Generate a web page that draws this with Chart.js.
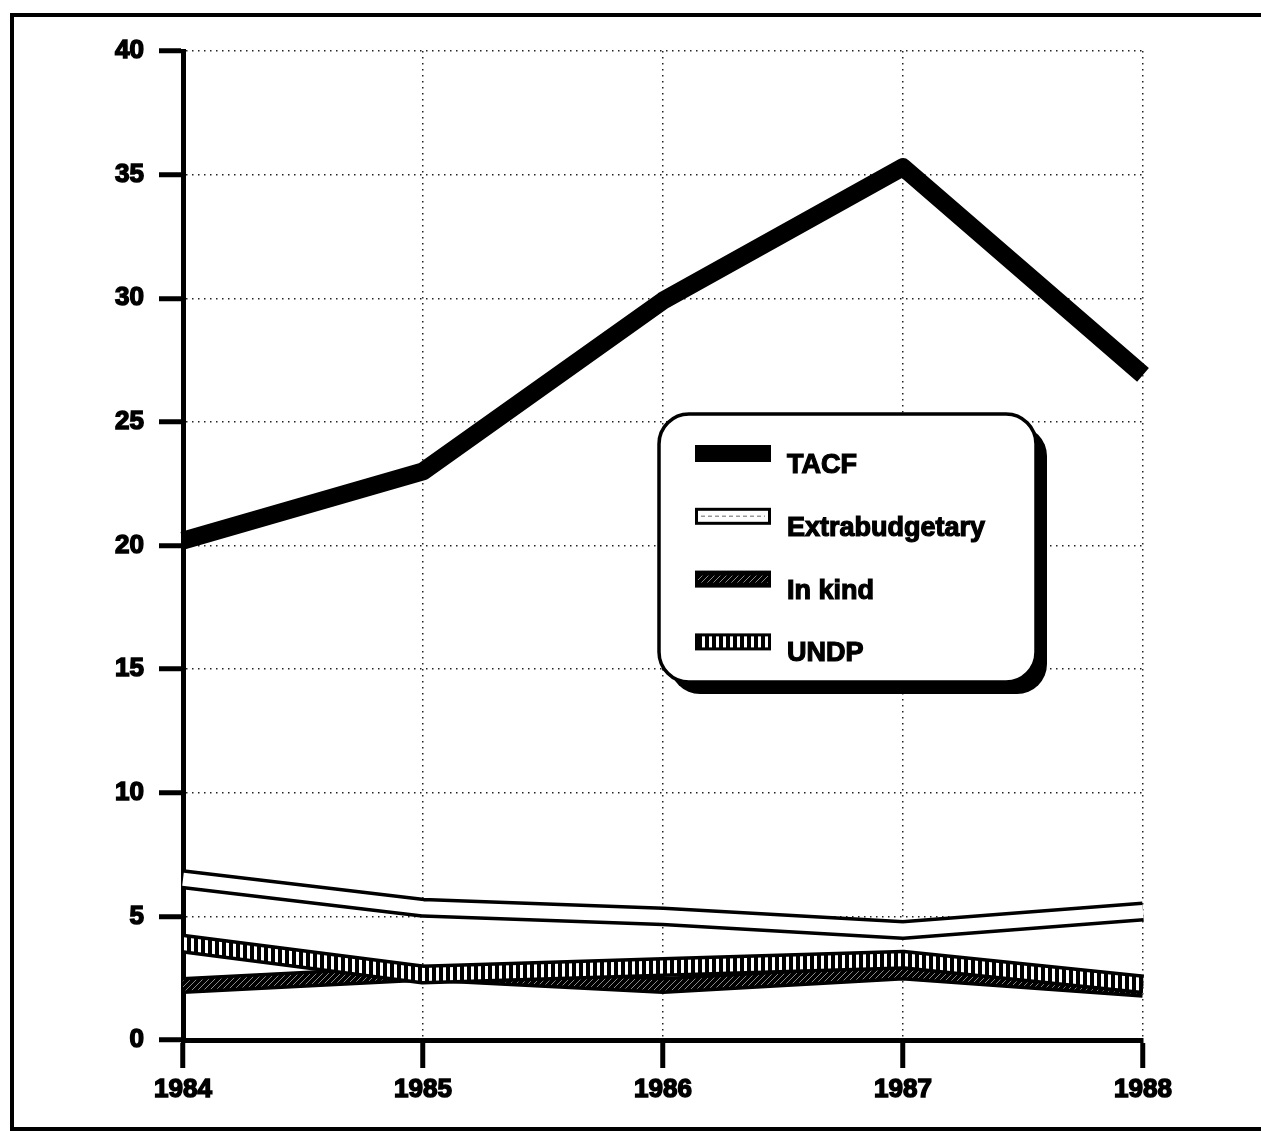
<!DOCTYPE html>
<html>
<head>
<meta charset="utf-8">
<script src="https://cdn.jsdelivr.net/npm/chart.js@4.4.0/dist/chart.umd.min.js"></script>
<style>
  html, body { margin: 0; padding: 0; background: #fff; }
  canvas { display: block; }
</style>
</head>
<body>
<canvas id="chart" width="1261" height="1131"></canvas>
<script>
// values
const years = ["1984", "1985", "1986", "1987", "1988"];
const yTicks = [0, 5, 10, 15, 20, 25, 30, 35, 40];
const tacf = [20.2, 23.0, 29.9, 35.3, 26.9];
const extrabudgetary = [6.5, 5.35, 5.0, 4.45, 5.2];
const inKind = [2.2, 2.7, 2.2, 2.75, 2.05];
const undp = [3.9, 2.65, 2.95, 3.25, 2.25];
const seriesNames = ["TACF", "Extrabudgetary", "In kind", "UNDP"];

const canvas = document.getElementById("chart");
const ctx = canvas.getContext("2d");
const font = "'Liberation Sans', Arial, sans-serif";

function makePattern(w, h, draw) {
    let c = document.createElement("canvas");
    c.width = w;
    c.height = h;
    draw(c.getContext("2d"), w, h);
    return ctx.createPattern(c, "repeat");
}

// vertical white stripes on black (UNDP)
const stripes = makePattern(7, 7, (g, w, h) => {
    g.fillStyle = "#000";
    g.fillRect(0, 0, w, h);
    g.fillStyle = "#fff";
    g.fillRect(2, 0, 3, h);
});

// thin diagonal hatch on black (In kind)
const hatch = makePattern(6, 6, (g, w, h) => {
    g.fillStyle = "#000";
    g.fillRect(0, 0, w, h);
    g.strokeStyle = "#888";
    g.lineWidth = 1;
    g.beginPath();
    g.moveTo(0, h);
    g.lineTo(w, 0);
    g.moveTo(-1, 1);
    g.lineTo(1, -1);
    g.moveTo(w - 1, h + 1);
    g.lineTo(w + 1, h - 1);
    g.stroke();
});

function band(label, data, color, width, order) {
    return {
        label: label,
        data: data,
        borderColor: color,
        borderWidth: width,
        pointRadius: 0,
        tension: 0,
        fill: false,
        borderJoinStyle: "round",
        borderCapStyle: "butt",
        order: order,
    };
}

// lower order is drawn on top
const datasets = [
    band(seriesNames[0], tacf, "#000", 18, 1),
    band(seriesNames[3], undp, stripes, 13, 2),
    band(seriesNames[3] + " edge", undp, "#000", 20, 3),
    band(seriesNames[2], inKind, hatch, 10, 4),
    band(seriesNames[2] + " edge", inKind, "#000", 17, 5),
    band(seriesNames[1], extrabudgetary, "#fff", 13, 6),
    band(seriesNames[1] + " edge", extrabudgetary, "#000", 20, 7),
];

const frame = {
    id: "frame",
    afterDraw(chart) {
        let c = chart.ctx;
        c.save();
        c.strokeStyle = "#000";
        c.lineWidth = 4;
        c.beginPath();
        c.moveTo(1261, 15);
        c.lineTo(12, 15);
        c.lineTo(12, 1129);
        c.lineTo(1261, 1129);
        c.stroke();
        c.restore();
    }
};

const legendBox = {
    id: "legendBox",
    afterDraw(chart) {
        let c = chart.ctx;
        let x = 659, y = 414, w = 377, h = 268, r = 30;
        c.save();
        c.fillStyle = "#000";
        c.beginPath();
        c.roundRect(x + 11, y + 12, w, h, r);
        c.fill();
        c.fillStyle = "#fff";
        c.strokeStyle = "#000";
        c.lineWidth = 3.5;
        c.beginPath();
        c.roundRect(x, y, w, h, r);
        c.fill();
        c.stroke();

        seriesNames.forEach((name, i) => {
            let sy = 445 + i * 62.8;
            let sx = 695, sw = 76, sh = 17;
            if (i === 0) {
                c.fillStyle = "#000";
                c.fillRect(sx, sy, sw, sh);
            } else if (i === 1) {
                c.fillStyle = "#000";
                c.fillRect(sx, sy, sw, sh);
                c.fillStyle = "#fff";
                c.fillRect(sx + 3, sy + 3, sw - 6, sh - 6);
                c.strokeStyle = "#999";
                c.lineWidth = 1.5;
                c.setLineDash([4, 3]);
                c.beginPath();
                c.moveTo(sx + 6, sy + sh / 2);
                c.lineTo(sx + sw - 6, sy + sh / 2);
                c.stroke();
                c.setLineDash([]);
            } else if (i === 2) {
                c.fillStyle = "#000";
                c.fillRect(sx, sy, sw, sh);
                c.fillStyle = hatch;
                c.fillRect(sx + 3, sy + 5, sw - 6, sh - 10);
            } else {
                c.fillStyle = "#000";
                c.fillRect(sx, sy, sw, sh);
                c.fillStyle = stripes;
                c.fillRect(sx + 3, sy + 3, sw - 6, sh - 6);
            }
            c.fillStyle = "#000";
            c.strokeStyle = "#000";
            c.lineWidth = 1.2;
            c.font = "bold 27px " + font;
            c.textBaseline = "alphabetic";
            c.fillText(name, 787, sy + 28);
            c.strokeText(name, 787, sy + 28);
        });
        c.restore();
    }
};

const tickFont = { family: font, size: 26, weight: "bold" };

new Chart(ctx, {
    type: "line",
    data: {
        labels: years,
        datasets: datasets,
    },
    options: {
        responsive: false,
        animation: false,
        layout: { padding: { left: 0, top: 51, right: 118, bottom: 0 } },
        plugins: {
            legend: { display: false },
            tooltip: { enabled: false },
        },
        scales: {
            x: {
                type: "category",
                offset: false,
                grid: {
                    color: "#222",
                    lineWidth: 1.5,
                    tickLength: 28,
                    tickWidth: 5,
                    tickColor: "#000",
                    tickBorderDash: [],
                },
                border: { display: true, color: "#000", width: 5, dash: [1.5, 4.5] },
                ticks: {
                    color: "#000",
                    font: tickFont,
                    padding: 6,
                    maxRotation: 0,
                    textStrokeColor: "#000",
                    textStrokeWidth: 1.5,
                },
                afterFit(scale) { scale.height = 91; },
            },
            y: {
                min: yTicks[0],
                max: yTicks[yTicks.length - 1],
                grid: {
                    color: "#222",
                    lineWidth: 1.5,
                    tickLength: 24,
                    tickWidth: 5,
                    tickColor: "#000",
                    tickBorderDash: [],
                },
                border: { display: true, color: "#000", width: 5, dash: [1.5, 4.5] },
                ticks: {
                    stepSize: yTicks[1] - yTicks[0],
                    color: "#000",
                    font: tickFont,
                    padding: 15,
                    textStrokeColor: "#000",
                    textStrokeWidth: 1.5,
                },
                afterFit(scale) { scale.width = 183; },
            },
        },
    },
    plugins: [frame, legendBox],
});
</script>
</body>
</html>
